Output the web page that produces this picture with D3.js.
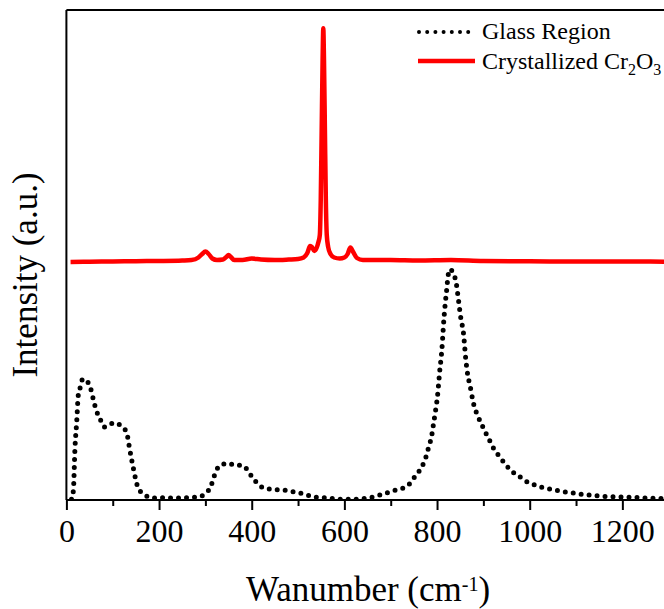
<!DOCTYPE html>
<html>
<head>
<meta charset="utf-8">
<script src="https://cdn.jsdelivr.net/npm/d3@7"></script>
<style>
  html, body { margin: 0; padding: 0; background: #fff; }
  svg { display: block; }
</style>
</head>
<body>
<svg id="chart" width="664" height="609"></svg>
<script>
// Raman spectra: glass region vs. crystallized Cr2O3 (intensity in arbitrary units)

// Glass region spectrum: wavenumber (cm^-1)
const glassWavenumber = [11, 15, 18.6, 22.2, 25.7, 31, 35, 42, 52, 60, 65, 72, 82, 94, 109, 119, 130, 134, 137, 141, 144, 148, 152, 159, 173, 188, 202, 238, 288, 301, 311, 317, 324, 337, 350, 364, 378, 391, 401, 414, 427, 454, 483, 498, 515, 530, 562, 598, 627, 650, 670, 684, 702, 716, 731, 743, 752, 763, 772, 778, 783, 788, 791, 796, 801, 806, 810, 815, 818, 821, 824, 829, 834, 841, 846, 851, 857, 862, 867, 871, 878, 889, 896, 904, 911, 919, 929, 937, 949, 961, 972, 983, 995, 1011, 1026, 1040, 1055, 1073, 1091, 1108, 1126, 1145, 1173, 1206, 1238, 1274, 1300];
// Glass region spectrum: intensity (a.u.)
const glassIntensity = [0.7, 9.3, 53, 78, 105, 114, 121, 120, 112, 97, 89, 82, 73, 76, 77, 73, 68, 58, 50, 40, 33, 24, 16, 9, 4, 2, 2.3, 2, 3.3, 7.3, 12.7, 21, 30, 35.7, 36.7, 34.7, 34.7, 30, 22.7, 16, 11.7, 10.3, 9, 7.3, 6, 3.3, 2, 0.7, 0.7, 2, 4, 6, 8.7, 10.7, 12.7, 17.3, 23.3, 30, 38, 46, 55, 63, 72, 87, 104, 130, 148, 182, 198, 211, 225, 231, 227, 218, 201, 183, 167, 141, 123, 115, 98, 83, 76, 68, 62, 54, 47, 42, 35, 29, 25, 22, 18, 15, 12.7, 11.3, 10, 8.3, 7.3, 6, 5, 4.3, 3.3, 3, 2.3, 1.7, 1.5];

// Crystallized Cr2O3 spectrum: wavenumber (cm^-1)
const crystalWavenumber = [9, 50, 100, 150, 200, 250, 270, 285, 293, 300, 307, 315, 325, 338, 345, 350, 355, 362, 380, 400, 420, 450, 480, 500, 512, 520, 526, 530, 535, 540, 544, 547, 549, 551, 553, 554.5, 556, 558, 560, 562, 565, 570, 578, 590, 600, 607, 613, 619, 627, 640, 700, 760, 830, 900, 1000, 1100, 1200, 1300];
// Crystallized Cr2O3 spectrum: intensity (a.u.)
const crystalIntensity = [238, 238.3, 238.5, 238.8, 239, 239.5, 240, 242.5, 246, 248.5, 246, 241.5, 240, 240.5, 243, 245, 243, 240, 240, 241.5, 240.5, 240, 240.5, 241, 242.5, 247, 254, 253, 249, 252, 258, 265, 300, 370, 440, 471.7, 440, 370, 300, 265, 253, 246, 242.5, 241.5, 242.5, 246, 252.5, 248, 242, 240, 240, 239.5, 240, 239, 238.7, 238.5, 238.5, 238.3];

// Axis ticks
const majorTicks = [0, 200, 400, 600, 800, 1000, 1200];
const minorTicks = [100, 300, 500, 700, 900, 1100, 1300];

// Legend / axis text
const seriesNames = ["Glass Region", "Crystallized Cr"];
const xTitle = "Wanumber (cm";
const yTitle = "Intensity (a.u.)";

const FONT = "Liberation Serif";

const svg = d3.select("#chart");
const W = 664, H = 609;
const m = { left: 66.4, top: 10, bottom: 500 };

const x = d3.scaleLinear().domain([0, 1300]).range([m.left, m.left + 1300 * 0.4633]);
const y = d3.scaleLinear().domain([0, 490]).range([m.bottom, m.top]);

svg.append("defs").append("clipPath").attr("id", "plotClip")
  .append("rect").attr("x", m.left).attr("y", m.top - 5)
  .attr("width", W - m.left).attr("height", m.bottom - m.top + 5);

const glass = glassWavenumber.map((w, i) => ({ w, v: glassIntensity[i] }));
const crystal = crystalWavenumber.map((w, i) => ({ w, v: crystalIntensity[i] }));

const line = d3.line().x(d => x(d.w)).y(d => y(d.v)).curve(d3.curveMonotoneX);

const plot = svg.append("g").attr("clip-path", "url(#plotClip)");

// crystallized spectrum (solid red)
plot.append("path").datum(crystal)
  .attr("d", line)
  .attr("fill", "none")
  .attr("stroke", "#ff0000")
  .attr("stroke-width", 4.5)
  .attr("stroke-linejoin", "round");

// glass spectrum (round dots)
plot.append("path").datum(glass)
  .attr("d", line)
  .attr("fill", "none")
  .attr("stroke", "#000")
  .attr("stroke-width", 5)
  .attr("stroke-linecap", "round")
  .attr("stroke-dasharray", "0 8");

// frame: left and top lines
svg.append("line").attr("x1", m.left).attr("x2", m.left)
  .attr("y1", m.top).attr("y2", m.bottom)
  .attr("stroke", "#000").attr("stroke-width", 2);
svg.append("line").attr("x1", m.left).attr("x2", W)
  .attr("y1", m.top).attr("y2", m.top)
  .attr("stroke", "#000").attr("stroke-width", 2);

// bottom axis: major ticks with labels
const xAxis = d3.axisBottom(x).tickValues(majorTicks).tickFormat(d3.format("d"))
  .tickSize(10).tickSizeOuter(0).tickPadding(9);
const gx = svg.append("g").attr("transform", `translate(0,${m.bottom})`).call(xAxis);
gx.attr("font-family", FONT).attr("font-size", 32);
gx.select(".domain").attr("d", `M${m.left},0H${W + 10}`).attr("stroke", "#000").attr("stroke-width", 2);
gx.selectAll(".tick line").attr("stroke", "#000").attr("stroke-width", 2);
gx.selectAll(".tick text").attr("font-family", FONT).attr("font-size", 32).attr("fill", "#000");

// minor ticks
const xMinor = d3.axisBottom(x).tickValues(minorTicks).tickSize(6).tickSizeOuter(0).tickFormat("");
const gm = svg.append("g").attr("transform", `translate(0,${m.bottom})`).call(xMinor);
gm.select(".domain").remove();
gm.selectAll(".tick line").attr("stroke", "#000").attr("stroke-width", 2);

// x axis title with superscript
const xt = svg.append("text").attr("x", 368).attr("y", 601)
  .attr("text-anchor", "middle").attr("font-family", FONT).attr("font-size", 35);
xt.append("tspan").text(xTitle);
xt.append("tspan").attr("dy", -10).attr("font-size", 20).text("-1");
xt.append("tspan").attr("dy", 10).text(")");

// y axis title
svg.append("text")
  .attr("transform", "translate(37,275) rotate(-90)")
  .attr("text-anchor", "middle").attr("font-family", FONT).attr("font-size", 35)
  .text(yTitle);

// legend
const lg = svg.append("g").attr("font-family", FONT);
lg.append("line").attr("x1", 419).attr("x2", 475).attr("y1", 32).attr("y2", 32)
  .attr("stroke", "#000").attr("stroke-width", 4)
  .attr("stroke-linecap", "round").attr("stroke-dasharray", "0 8.2");
lg.append("text").attr("x", 482).attr("y", 39).attr("font-size", 24).text(seriesNames[0]);

lg.append("line").attr("x1", 418).attr("x2", 475).attr("y1", 61).attr("y2", 61)
  .attr("stroke", "#ff0000").attr("stroke-width", 4.5);
const t2 = lg.append("text").attr("x", 482).attr("y", 68.5).attr("font-size", 24);
t2.append("tspan").text(seriesNames[1]);
t2.append("tspan").attr("dy", 6).attr("font-size", 16).text("2");
t2.append("tspan").attr("dy", -6).text("O");
t2.append("tspan").attr("dy", 6).attr("font-size", 16).text("3");
</script>
</body>
</html>
